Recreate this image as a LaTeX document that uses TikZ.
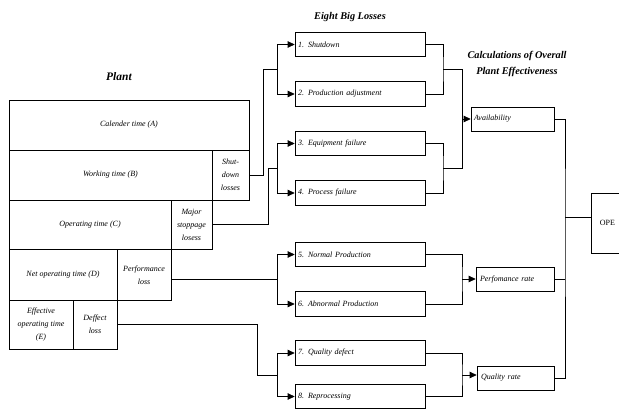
\documentclass[tikz,border=0pt]{standalone}
\usepackage{fontspec}
\setmainfont{Liberation Serif}
\usetikzlibrary{arrows.meta}

\begin{document}
\begin{tikzpicture}[x=1pt,y=-1pt,line width=0.7pt,
   every node/.style={font=\fontsize{8}{13}\selectfont\itshape},
   box/.style={draw,inner sep=0pt,align=center},
   lossbox/.style={draw,minimum height=24.5pt,text width=124pt,inner xsep=3pt,inner ysep=0pt,align=left},
   ratebox/.style={draw,minimum height=24pt,inner xsep=3pt,inner ysep=0pt,align=left},
   title/.style={font=\fontsize{10.3}{16.5}\selectfont\bfseries\itshape,align=center},
   arr/.style={-{Triangle[length=7pt,width=6.5pt]}}]
   \useasboundingbox (0,0) rectangle (619,409);
   % titles
   \node [title,font=\fontsize{11.5}{14}\selectfont\bfseries\itshape] (plant) at (119,77) {Plant};
   \node [title] (eight) at (350,17) {Eight Big Losses};
   \node [title] (calc) at (517,64) {Calculations of Overall\\Plant Effectiveness};
   % plant
   \node [box,minimum width=240,minimum height=50] (cal) at (129,125) {Calender time (A)};
   \node [box,minimum width=203,minimum height=50] (work) at (110.5,175) {Working time (B)};
   \node [box,minimum width=37,minimum height=50] (shut) at (230.5,175) {Shut-\\down\\losses};
   \node [box,minimum width=162,minimum height=49.5] (oper) at (90,224.75) {Operating time (C)};
   \node [box,minimum width=41,minimum height=49.5] (major) at (191.5,224.75) {Major\\stoppage\\losess};
   \node [box,minimum width=108,minimum height=50.5] (net) at (63,274.75) {Net operating time (D)};
   \node [box,minimum width=54,minimum height=50.5] (perf) at (144,274.75) {Performance\\loss};
   \node [box,minimum width=64,minimum height=49] (eff) at (41,324.5) {Effective\\operating time\\(E)};
   \node [box,minimum width=44,minimum height=49] (def) at (95,324.5) {Deffect\\loss};
   % eight big losses
   \node [lossbox] (L1) at (360,44.5) {1. Shutdown};
   \node [lossbox] (L2) at (360,94) {2. Production adjustment};
   \node [lossbox] (L3) at (360,143.5) {3. Equipment failure};
   \node [lossbox] (L4) at (360,193) {4. Process failure};
   \node [lossbox] (L5) at (360,254.5) {5. Normal Production};
   \node [lossbox] (L6) at (360,304) {6. Abnormal Production};
   \node [lossbox] (L7) at (360,353) {7. Quality defect};
   \node [lossbox] (L8) at (360,396.5) {8. Reprocessing};
   % rates
   \node [ratebox,text width=77pt,inner xsep=3pt] (avail) at (512.5,119) {Availability};
   \node [ratebox,text width=70pt,inner xsep=4pt] (prate) at (515,279.5) {Perfomance rate};
   \node [ratebox,text width=69pt,inner xsep=4pt] (qual) at (515.5,378) {Quality rate};
   \node [draw,minimum width=32,minimum height=60,anchor=west,font=\fontsize{8}{9}\selectfont] (OPE) at (591,223) {OPE};
   % junctions
   \coordinate (j1) at (277,69.25);
   \coordinate (j2) at (277,168);
   \coordinate (j3) at (277,279);
   \coordinate (j4) at (277,375);
   \coordinate (k1) at (443,69.25);
   \coordinate (k2) at (443,168);
   \coordinate (m1) at (462,69.25);
   \coordinate (m2) at (462,168);
   \coordinate (m3) at (462,279);
   \coordinate (m4) at (462,375);
   \coordinate (n1) at (565,217);
   % losses to the eight boxes
   \draw (shut.east) -| ([xshift=-14pt]j1) -- (j1);
   \draw [arr] (j1) |- (L1.west);
   \draw [arr] (j1) |- (L2.west);
   \draw (major.east) -| ([xshift=-9pt]j2) -- (j2);
   \draw [arr] (j2) |- (L3.west);
   \draw [arr] (j2) |- (L4.west);
   \draw (perf.east |- j3) -- (j3);
   \draw [arr] (j3) |- (L5.west);
   \draw [arr] (j3) |- (L6.west);
   \draw (def.east) -| ([xshift=-20pt]j4) -- (j4);
   \draw [arr] (j4) |- (L7.west);
   \draw [arr] (j4) |- (L8.west);
   % eight boxes to the rates
   \draw (L1.east) -| (k1) |- (L2.east);
   \draw (L3.east) -| (k2) |- (L4.east);
   \draw (k1) -- (m1) -- (m2) -- (k2);
   \draw [arr] (m1 |- avail) -- (avail.west);
   \draw (L5.east) -| (m3) |- (L6.east);
   \draw [arr] (m3) -- (m3 -| prate.west);
   \draw (L7.east) -| (m4) |- (L8.east);
   \draw [arr] (m4) -- (m4 -| qual.west);
   % rates to OPE
   \draw (avail.east) -| (n1) |- (qual.east);
   \draw (prate.east) -- (prate.east -| n1);
   \draw (n1) -- (n1 -| OPE.west);
\end{tikzpicture}
\end{document}
